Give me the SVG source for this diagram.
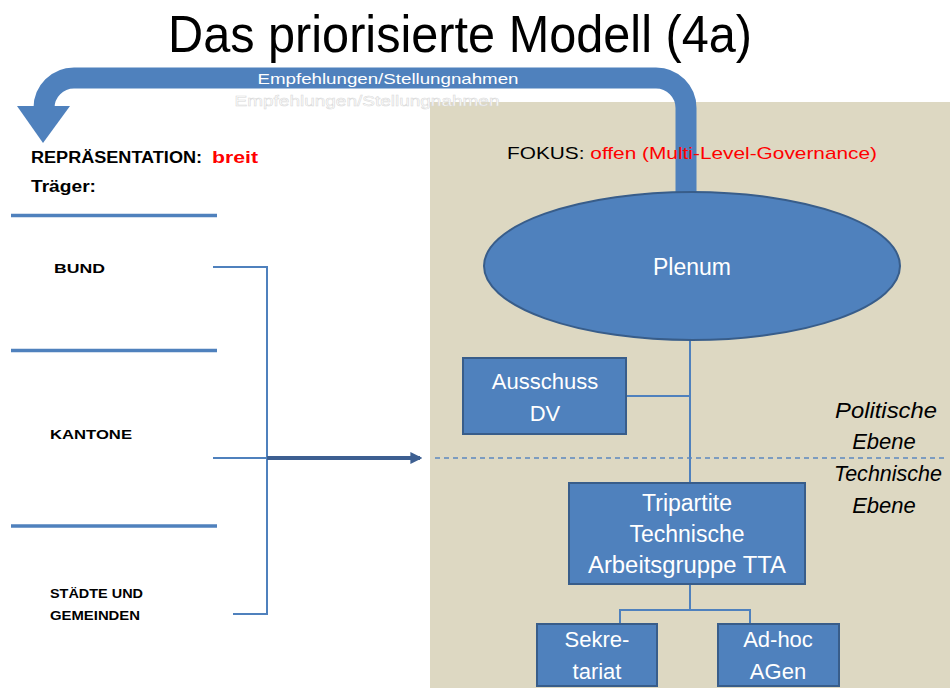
<svg xmlns="http://www.w3.org/2000/svg" width="950" height="688" viewBox="0 0 950 688">
<defs>
<style>
.t{font-family:"Liberation Sans","DejaVu Sans",sans-serif}
.w{fill:#fff}
.box{fill:#4F81BD;stroke:#385D8A;stroke-width:2}
.ln{fill:none;stroke:#4F81BD;stroke-width:2}
.sep{stroke:#4F81BD;stroke-width:3.5}
.lbl{font-family:"Liberation Sans","DejaVu Sans",sans-serif;font-weight:bold;font-size:13px;fill:#000}
.it{font-family:"Liberation Sans","DejaVu Sans",sans-serif;font-style:italic;font-size:22px;fill:#000}
</style>
<marker id="ah" viewBox="0 0 10 10" refX="8" refY="5" markerWidth="3" markerHeight="3" orient="auto" markerUnits="strokeWidth">
<path d="M0,0 L10,5 L0,10 Z" fill="#3D5F91"/>
</marker>
</defs>
<rect width="950" height="688" fill="#fff"/>
<rect id="panel" x="430" y="102" width="520" height="586" fill="#DDD8C2"/>

<text class="t" x="168" y="52" font-size="52" textLength="584" lengthAdjust="spacingAndGlyphs" fill="#000">Das priorisierte Modell (4a)</text>

<g id="connectors">
<path d="M686,194 L686,108 A30,30 0 0 0 656,78 L74,78 A30,30 0 0 0 44,108" fill="none" stroke="#4F81BD" stroke-width="21"/>
<polygon points="17,106 70,106 43,143" fill="#4F81BD"/>
<line x1="690" y1="340" x2="690" y2="483" class="ln" stroke-width="1.5"/>
<line x1="626" y1="396" x2="690" y2="396" class="ln" stroke-width="1.5"/>
<polyline points="690,584 690,610 620,610 620,624" class="ln" stroke-width="1.5"/>
<polyline points="690,610 750,610 750,624" class="ln" stroke-width="1.5"/>
<polyline points="213,267 267,267 267,614 233,614" class="ln" stroke="#5B8BC9"/>
<line x1="213" y1="458" x2="267" y2="458" class="ln" stroke="#5B8BC9"/>
<line x1="267" y1="458" x2="420" y2="458" stroke="#3D5F91" stroke-width="4" marker-end="url(#ah)"/>
<line x1="435" y1="458" x2="946" y2="458" stroke="#5C88C0" stroke-width="1.3" stroke-dasharray="5,4"/>
</g>

<text class="t w" x="388" y="84" font-size="15" text-anchor="middle" textLength="261" lengthAdjust="spacingAndGlyphs">Empfehlungen/Stellungnahmen</text>
<text class="t" x="367" y="106" font-size="15" text-anchor="middle" textLength="265" lengthAdjust="spacingAndGlyphs" fill="#fff" stroke="#d8d8d8" stroke-width="0.5">Empfehlungen/Stellungnahmen</text>

<g id="left">
<text class="t" x="31" y="163" font-size="16" font-weight="bold" textLength="171" lengthAdjust="spacingAndGlyphs">REPRÄSENTATION:</text>
<text class="t" x="212" y="163" font-size="16" font-weight="bold" fill="#FF0000" textLength="46" lengthAdjust="spacingAndGlyphs">breit</text>
<text class="t" x="31" y="192" font-size="16" font-weight="bold" textLength="65" lengthAdjust="spacingAndGlyphs">Träger:</text>
<line x1="11" y1="215.5" x2="217" y2="215.5" class="sep"/>
<line x1="11" y1="350.5" x2="217" y2="350.5" class="sep"/>
<line x1="11" y1="526" x2="217" y2="526" class="sep"/>
</g>
<g id="bund"><text class="lbl" x="54" y="273" textLength="51" lengthAdjust="spacingAndGlyphs">BUND</text></g>
<g id="kantone"><text class="lbl" x="50" y="439" textLength="82" lengthAdjust="spacingAndGlyphs">KANTONE</text></g>
<g id="staedte"><text class="lbl" x="50" y="598" textLength="93" lengthAdjust="spacingAndGlyphs">STÄDTE UND</text>
<text class="lbl" x="50" y="620" textLength="90" lengthAdjust="spacingAndGlyphs">GEMEINDEN</text></g>

<g id="fokus">
<text class="t" x="507" y="159" font-size="17" textLength="370" lengthAdjust="spacingAndGlyphs"><tspan fill="#000">FOKUS: </tspan><tspan fill="#FF0000">offen (Multi-Level-Governance)</tspan></text>
</g>

<g id="plenum">
<ellipse cx="692" cy="266" rx="208" ry="74" class="box"/>
<text class="t w" x="692" y="275" font-size="23" text-anchor="middle">Plenum</text>
</g>
<g id="ausschuss">
<rect x="463" y="358" width="163" height="76" class="box"/>
<text class="t w" x="545" y="389" font-size="22" text-anchor="middle">Ausschuss</text>
<text class="t w" x="545" y="421" font-size="22" text-anchor="middle">DV</text>
</g>
<g id="tta">
<rect x="569" y="483" width="236" height="101" class="box"/>
<text class="t w" x="687" y="511" font-size="23" text-anchor="middle">Tripartite</text>
<text class="t w" x="687" y="542" font-size="23" text-anchor="middle">Technische</text>
<text class="t w" x="687" y="573" font-size="23" text-anchor="middle" textLength="198" lengthAdjust="spacingAndGlyphs">Arbeitsgruppe TTA</text>
</g>
<g id="sekretariat">
<rect x="537" y="624" width="120" height="62" class="box"/>
<text class="t w" x="597" y="647" font-size="22" text-anchor="middle">Sekre-</text>
<text class="t w" x="597" y="679" font-size="22" text-anchor="middle">tariat</text>
</g>
<g id="adhoc">
<rect x="718" y="624" width="121" height="62" class="box"/>
<text class="t w" x="778" y="647" font-size="22" text-anchor="middle">Ad-hoc</text>
<text class="t w" x="778" y="679" font-size="22" text-anchor="middle">AGen</text>
</g>
<g id="ebenen">
<text class="it" x="886" y="418" text-anchor="middle" textLength="102" lengthAdjust="spacingAndGlyphs">Politische</text>
<text class="it" x="884" y="449" text-anchor="middle">Ebene</text>
<text class="it" x="888" y="481" text-anchor="middle" textLength="108" lengthAdjust="spacingAndGlyphs">Technische</text>
<text class="it" x="884" y="513" text-anchor="middle">Ebene</text>
</g>
</svg>
